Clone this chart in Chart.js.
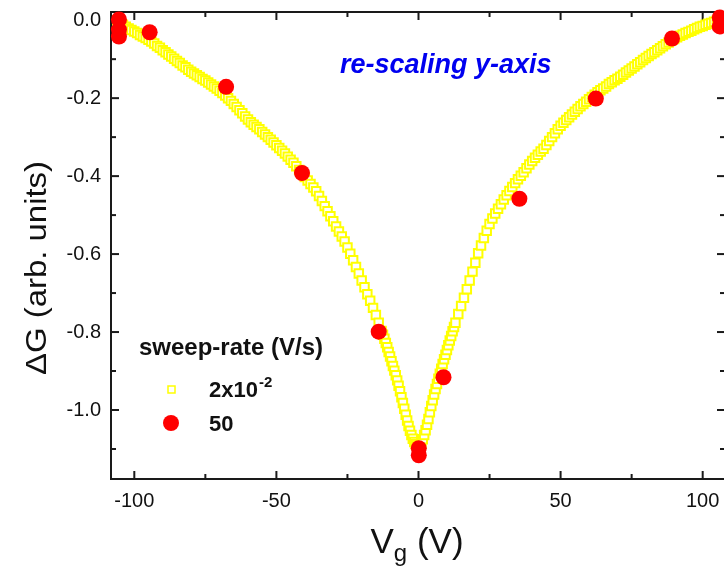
<!DOCTYPE html>
<html>
<head>
<meta charset="utf-8">
<script src="https://cdn.jsdelivr.net/npm/chart.js@4.4.1/dist/chart.umd.min.js"></script>
<style>
  html, body { margin: 0; padding: 0; background: #fff; }
  canvas { display: block; }
</style>
</head>
<body>
<canvas id="chart" width="724" height="571"></canvas>
<script>
// slow sweep, 2x10^-2 V/s
const slowVg = [
  -106,-105,-104,-103,-102,-101,-100,-99,-98,-97,-96,-95,-94,-93,-92,-91,-90,-89,-88,-87,
  -86,-85,-84,-83,-82,-81,-80,-79,-78,-77,-76,-75,-74,-73,-72,-71,-70,-69,-68,-67,
  -66,-65,-64,-63,-62,-61,-60,-59,-58,-57,-56,-55,-54,-53,-52,-51,-50,-49,-48,-47,
  -46,-45,-44,-43,-42,-41,-40,-39,-38,-37,-36,-35,-34,-33,-32,-31,-30,-29,-28,-27,
  -26,-25,-24,-23,-22,-21,-20,-19,-18,-17,-16,-15,-14,-13,
  -12.5,-12,-11.5,-11,-10.5,-10,-9.5,-9,-8.5,-8,-7.5,-7,-6.5,-6,-5.5,-5,-4.5,-4,-3.5,-3,
  -2.5,-2,-1.5,-1,-0.5,0,0.5,1,1.5,2,2.5,3,3.5,4,4.5,5,5.5,6,6.5,7,
  7.5,8,8.5,9,9.5,10,10.5,11,11.5,12,12.5,
  13,14,15,16,17,18,19,20,21,22,23,24,25,26,27,28,29,30,31,32,
  33,34,35,36,37,38,39,40,41,42,43,44,45,46,47,48,49,50,51,52,
  53,54,55,56,57,58,59,60,61,62,63,64,65,66,67,68,69,70,71,72,
  73,74,75,76,77,78,79,80,81,82,83,84,85,86,87,88,89,90,91,92,
  93,94,95,96,97,98,99,100,101,102,103,104,105,106
]
const slowDG = [
  0.000,-0.006,-0.012,-0.017,-0.021,-0.025,-0.029,-0.033,-0.038,-0.042,
  -0.046,-0.050,-0.055,-0.060,-0.066,-0.071,-0.077,-0.082,-0.088,-0.093,
  -0.099,-0.105,-0.110,-0.116,-0.121,-0.127,-0.132,-0.137,-0.141,-0.146,
  -0.151,-0.155,-0.160,-0.165,-0.170,-0.175,-0.181,-0.187,-0.193,-0.200,
  -0.207,-0.215,-0.223,-0.231,-0.239,-0.247,-0.255,-0.262,-0.268,-0.274,
  -0.280,-0.287,-0.293,-0.300,-0.307,-0.314,-0.321,-0.328,-0.335,-0.342,
  -0.350,-0.358,-0.366,-0.375,-0.384,-0.393,-0.402,-0.411,-0.420,-0.429,
  -0.439,-0.451,-0.464,-0.477,-0.490,-0.503,-0.516,-0.529,-0.542,-0.555,
  -0.568,-0.583,-0.599,-0.616,-0.633,-0.650,-0.668,-0.685,-0.703,-0.720,
  -0.738,-0.756,-0.776,-0.797,
  -0.807,-0.817,-0.828,-0.839,-0.851,-0.863,-0.875,-0.887,-0.899,-0.911,
  -0.924,-0.938,-0.952,-0.967,-0.982,-0.997,-1.012,-1.027,-1.041,-1.053,
  -1.064,-1.074,-1.082,-1.088,-1.093,-1.096,
  -1.092,-1.085,-1.075,-1.064,-1.052,-1.038,-1.023,-1.006,-0.990,-0.975,
  -0.960,-0.946,-0.933,-0.920,-0.907,-0.894,-0.882,-0.870,-0.858,-0.846,
  -0.834,-0.822,-0.810,-0.798,-0.787,
  -0.776,-0.754,-0.733,-0.712,-0.690,-0.668,-0.645,-0.622,-0.598,-0.578,
  -0.559,-0.540,-0.523,-0.509,-0.496,-0.484,-0.472,-0.460,-0.449,-0.438,
  -0.428,-0.418,-0.408,-0.399,-0.390,-0.380,-0.370,-0.361,-0.353,-0.345,
  -0.337,-0.330,-0.320,-0.310,-0.300,-0.290,-0.280,-0.271,-0.263,-0.256,
  -0.249,-0.242,-0.235,-0.228,-0.221,-0.215,-0.209,-0.203,-0.197,-0.191,
  -0.185,-0.180,-0.175,-0.170,-0.164,-0.159,-0.154,-0.150,-0.145,-0.140,
  -0.134,-0.129,-0.124,-0.119,-0.113,-0.108,-0.102,-0.097,-0.092,-0.087,
  -0.082,-0.077,-0.072,-0.067,-0.062,-0.057,-0.052,-0.048,-0.044,-0.040,
  -0.037,-0.033,-0.030,-0.027,-0.023,-0.020,-0.017,-0.015,-0.012,-0.009,
  -0.007,-0.004,-0.001,0.002
]

// fast sweep, 50 V/s
const fastVg = [-105.4, -105.4, -105.4, -94.6, -67.7, -41.0, -14.0, 0.1, 0.1, 8.8, 35.5, 62.4, 89.2, 106.0, 106.0]
const fastDG = [0.002, -0.024, -0.042, -0.031, -0.171, -0.392, -0.799, -1.098, -1.116, -0.916, -0.458, -0.201, -0.047, 0.007, -0.016]

const xTicks = [-100, -50, 0, 50, 100]
const xMinor = [-75, -25, 25, 75]
const yTicks = [0, -0.2, -0.4, -0.6, -0.8, -1.0]
const yMinor = [-0.1, -0.3, -0.5, -0.7, -0.9, -1.1]

const legendTitle = 'sweep-rate (V/s)'
const slowLabel = ['2x10', '-2']
const fastLabel = '50'
const note = 're-scaling y-axis'

const FONT = '"Liberation Sans", Arial, Helvetica, sans-serif'
const ink = '#111'

const toPoints = (xs, ys) => xs.map((v, i) => ({ x: v, y: ys[i] }))

// keep chart area exactly where the layout padding puts it
const noScalePadding = s => {
    s.paddingLeft = 0
    s.paddingRight = 0
    s.paddingTop = 0
    s.paddingBottom = 0
}

// box around the plot with ticks pointing inwards on all four sides
// (the right edge sits one pixel past the canvas)
const frame = {
    id: 'frame',
    beforeDatasetsDraw(chart) {
        const { ctx, chartArea: a, scales: { x, y } } = chart
        const right = a.right + 1
        ctx.save()
        ctx.strokeStyle = '#1a1a1a'
        ctx.lineWidth = 2
        ctx.strokeRect(a.left, a.top, right - a.left, a.bottom - a.top)
        const line = (x1, y1, x2, y2) => {
            ctx.beginPath()
            ctx.moveTo(x1, y1)
            ctx.lineTo(x2, y2)
            ctx.stroke()
        }
        const xMark = (v, len) => {
            const px = x.getPixelForValue(v)
            line(px, a.bottom, px, a.bottom - len)
            line(px, a.top, px, a.top + len)
        }
        const yMark = (v, len) => {
            const py = y.getPixelForValue(v)
            line(a.left, py, a.left + len, py)
            line(right, py, right - len, py)
        }
        xTicks.forEach(v => xMark(v, 8))
        xMinor.forEach(v => xMark(v, 5))
        yTicks.forEach(v => yMark(v, 8))
        yMinor.forEach(v => yMark(v, 5))
        ctx.restore()
    }
}

// axis titles, legend and the note
const texts = {
    id: 'texts',
    afterDraw(chart) {
        const { ctx } = chart
        ctx.save()
        ctx.fillStyle = ink
        ctx.textBaseline = 'alphabetic'
        ctx.textAlign = 'left'

        // y title, stretched a little along its length
        ctx.save()
        ctx.font = '29px ' + FONT
        const yTitle = '\u0394G (arb. units)'
        const stretch = 214 / ctx.measureText(yTitle).width
        ctx.translate(46, 268)
        ctx.rotate(-Math.PI / 2)
        ctx.scale(stretch, 1)
        ctx.textAlign = 'center'
        ctx.fillText(yTitle, 0, 0)
        ctx.restore()

        // x title: V with subscript g
        const big = '35px ' + FONT
        const small = '24px ' + FONT
        ctx.font = big
        const wV = ctx.measureText('V').width
        const wRest = ctx.measureText(' (V)').width
        ctx.font = small
        const wg = ctx.measureText('g').width
        let xs = 417 - (wV + wg + wRest) / 2
        ctx.font = big
        ctx.fillText('V', xs, 553)
        xs += wV
        ctx.font = small
        ctx.fillText('g', xs, 561)
        xs += wg
        ctx.font = big
        ctx.fillText(' (V)', xs, 553)

        // legend
        ctx.font = 'bold 24px ' + FONT
        ctx.fillText(legendTitle, 139, 355)
        ctx.strokeStyle = '#ffff00'
        ctx.lineWidth = 1.5
        ctx.fillStyle = '#fff'
        ctx.fillRect(168, 386, 7, 7)
        ctx.strokeRect(168, 386, 7, 7)
        ctx.fillStyle = '#ff0000'
        ctx.beginPath()
        ctx.arc(171, 423, 8, 0, Math.PI * 2)
        ctx.fill()
        ctx.fillStyle = ink
        ctx.font = 'bold 22px ' + FONT
        ctx.fillText(slowLabel[0], 209, 397)
        const wBase = ctx.measureText(slowLabel[0]).width
        ctx.font = 'bold 15px ' + FONT
        ctx.fillText(slowLabel[1], 209 + wBase + 1, 387)
        ctx.font = 'bold 22px ' + FONT
        ctx.fillText(fastLabel, 209, 431)

        // note
        ctx.fillStyle = '#0000f0'
        ctx.font = 'italic bold 27px ' + FONT
        ctx.fillText(note, 340, 73)
        ctx.restore()
    }
}

new Chart(document.getElementById('chart'), {
    type: 'scatter',
    data: {
        datasets: [
            {
                label: fastLabel,
                data: toPoints(fastVg, fastDG),
                pointStyle: 'circle',
                pointRadius: 8,
                backgroundColor: '#ff0000',
                borderWidth: 0,
                order: 0,
                clip: false
            },
            {
                label: slowLabel.join(''),
                data: toPoints(slowVg, slowDG),
                pointStyle: 'rect',
                pointRadius: 6,
                backgroundColor: '#ffffff',
                borderColor: '#ffff00',
                borderWidth: 2,
                order: 1
            }
        ]
    },
    options: {
        responsive: false,
        animation: false,
        events: [],
        layout: { autoPadding: false, padding: { top: 12, right: 0, left: 0, bottom: 0 } },
        plugins: {
            legend: { display: false },
            tooltip: { enabled: false }
        },
        scales: {
            x: {
                type: 'linear',
                min: -108.2,
                max: 107.5,
                grid: { display: false, drawTicks: false },
                border: { display: false },
                ticks: {
                    padding: 10,
                    color: ink,
                    font: { family: FONT, size: 20 },
                    callback: v => String(v)
                },
                afterBuildTicks: s => { s.ticks = xTicks.map(v => ({ value: v })) },
                afterFit: s => {
                    s.height = 92
                    noScalePadding(s)
                }
            },
            y: {
                type: 'linear',
                min: -1.177,
                max: 0.021,
                grid: { display: false, drawTicks: false },
                border: { display: false },
                ticks: {
                    padding: 10,
                    color: ink,
                    font: { family: FONT, size: 20 },
                    callback: v => v.toFixed(1)
                },
                afterBuildTicks: s => { s.ticks = yTicks.map(v => ({ value: v })) },
                afterFit: s => {
                    s.width = 111
                    noScalePadding(s)
                }
            }
        }
    },
    plugins: [frame, texts]
})
</script>
</body>
</html>
